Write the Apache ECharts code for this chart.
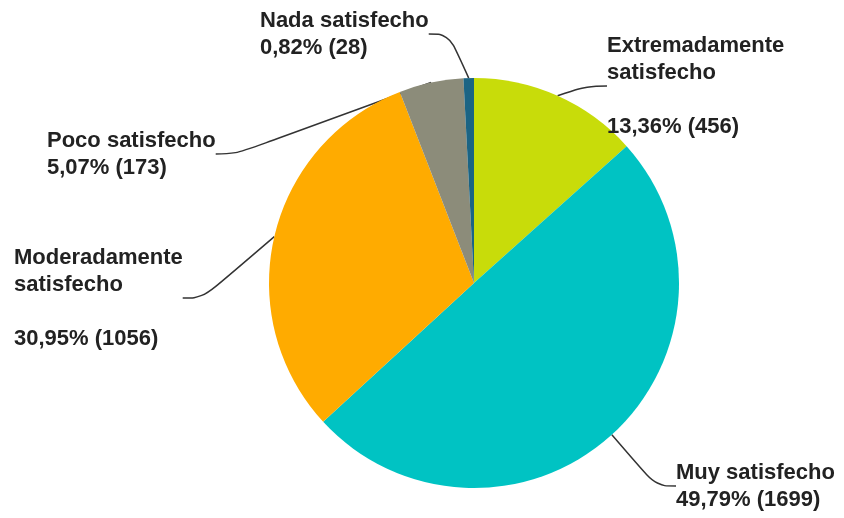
<!DOCTYPE html>
<html><head><meta charset="utf-8">
<script src="https://cdn.jsdelivr.net/npm/echarts@6/dist/echarts.min.js"></script>
<style>html,body{margin:0;padding:0;background:#fff}#c{width:844px;height:518px}</style>
</head><body><div id="c"></div>
<script>
const categories = ['Extremadamente satisfecho','Muy satisfecho','Moderadamente satisfecho','Poco satisfecho','Nada satisfecho'];
const labelNames = ['Extremadamente\nsatisfecho\n','Muy satisfecho','Moderadamente\nsatisfecho\n','Poco satisfecho','Nada satisfecho'];
const values = [456, 1699, 1056, 173, 28];
const colors = ['#c8dc0a','#00c3c3','#ffab00','#8c8c7a','#1b6484'];
const labelPos = [[607,32],[676,459],[14,244],[47,127],[260,7]];

const total = values.reduce((a,b)=>a+b,0);
const chart = echarts.init(document.getElementById('c'));
chart.setOption({
  animation:false,
  series:[{
    type:'pie',
    center:[474,283],
    radius:205,
    startAngle:90,
    clockwise:true,
    avoidLabelOverlap:false,
    data: categories.map((n,i)=>({name:n,value:values[i],itemStyle:{color:colors[i]}})),
    label:{
      show:true,
      color:'#222',
      fontFamily:'Liberation Sans, Arial, sans-serif',
      fontWeight:'bold',
      fontSize:22,
      lineHeight:27,
      align:'left',
      formatter:p=>labelNames[p.dataIndex]+'\n'+(p.value/total*100).toFixed(2).replace('.',',')+'% ('+p.value+')'
    },
    labelLine:{show:true,smooth:0.4,lineStyle:{color:'#333',width:1.5},length:15,length2:20},
    labelLayout:function(params){
      const p = labelPos[params.dataIndex];
      return {x:p[0],y:p[1],align:'left',verticalAlign:'top'};
    }
  }]
});
</script></body></html>
